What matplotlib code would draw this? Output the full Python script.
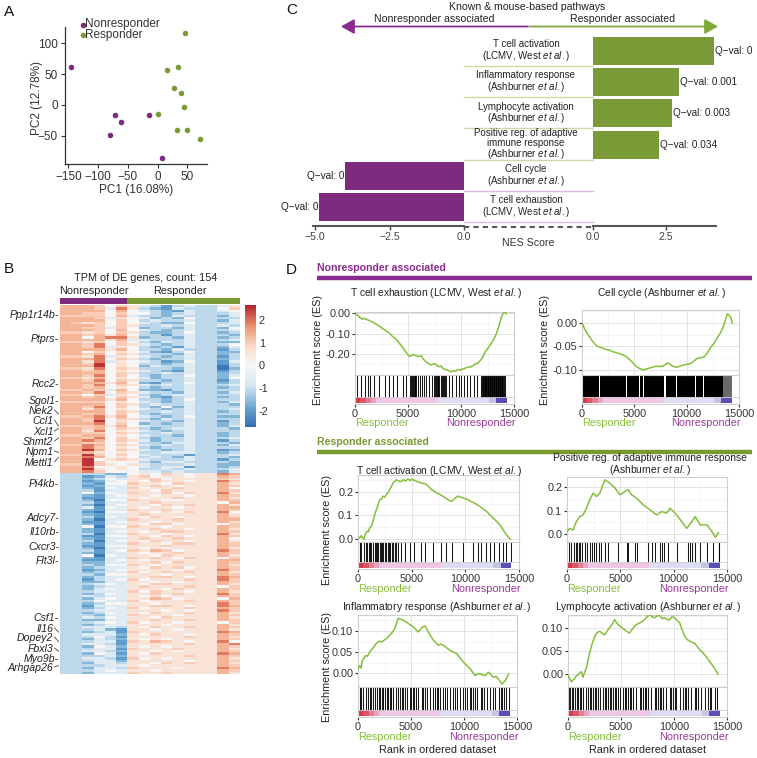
import numpy as np
import matplotlib
matplotlib.use('Agg')
import matplotlib.pyplot as plt
from matplotlib.colors import LinearSegmentedColormap, ListedColormap
from matplotlib.ticker import AutoMinorLocator

plt.rcParams['font.family'] = ['Liberation Sans', 'DejaVu Sans']
plt.rcParams['mathtext.fontset'] = 'custom'
plt.rcParams['mathtext.rm'] = 'Liberation Sans'
plt.rcParams['mathtext.it'] = 'Liberation Sans:italic'
plt.rcParams['mathtext.bf'] = 'Liberation Sans:bold'

# ---------------- DATA ----------------
# Panel A: PCA
nonresp_pc1 = [-145, -71, -62, -80, -14, 8]
nonresp_pc2 = [61, -16, -28, -49, -17, -86]
resp_pc1 = [46, 15, 34, 27, 40, 45, 1, 33, 50, 71]
resp_pc2 = [116, 57, 61, 28, 20, -3, -14, -40, -40, -55]

# Panel B: heatmap (z-scored TPM, 154 genes x 16 samples); letters a..k = levels below
level_chars = 'abcdefghijk'
level_values = [-2.5, -2.0, -1.6, -1.1, -0.6, 0.0, 0.55, 1.0, 1.3, 1.9, 2.5]
sample_groups = ['N'] * 6 + ['R'] * 10
heat_rows = [
"iiihfhgedbdeddeg", "iiihejgdcbedddfh", "iiiififedcbeddef", "iihhfhffdcdeddde",
"hhhhfieddcedddce", "iiihegfecdcfdddd", "iiiifhfdeddeddce", "ihghfhfedccfddde",
"iiihfhgddededded", "iihhehfcddceddcf", "iiihfifedcdeddde", "hhghfhgdccdfddcd",
"iihigifddbdedddc", "iifijjgcddceddcd", "iiiigieedddeddde", "hhghfhfdcededdcc",
"iihjfhgedcdedddf", "iihjegfdcdbeddce", "iiiigifddcedddbd", "iifhfgfecbdfddcc",
"iihifhgdddceddcd", "hhgjegfedcdeddbd", "iiijfhgdcddeddcd", "iigjegfedbcfddbe",
"iihkfgfddcdeddbd", "iiikfgfceddeddad", "hhgjfhgdddceddac", "iihifgfedcbeddbd",
"iiiifhgddededdcd", "iihjfhfdcddfddce", "hhgifgfecddeddcf", "iihjfhgddcdeddbd",
"iiiigifcbddfddcd", "iihjfhgedededdde", "iihifgfdcddeddcd", "hhiheifccbdedddd",
"iihjfhgeddceddce", "hhfhegfdcdeedddd", "iihifhgecbdeddcd", "iiiigifddcdfdddd",
"hhhhfgfedcdeddce", "iiiifhgdeddedddc", "iihjfhfdcfcedddd", "iigifgfedcdeddde",
"iiiifhgddededdcd", "iihifhfdcddedddd", "hhijgifedcdfddcc", "iihjfhgdcededddd",
"iihkfgfeddceddbd", "iiijfhfcdcdeddcd", "hhhigifedddeddce", "iihifhgdcdeedddc",
"iigjfgfedcdedddd", "iihhfhgddededdcd", "hhiifgfeddceddcd", "iihjfhfdcddeddde",
"iijifhgecddeddbd", "iihhfgfddceedddc", "hhjifhgedededdce", "iijhfgfdcddedddd",
"iikifhgedcdeddbc", "iiigfgfddeeeddcd", "hhkhfhfedddbddde", "iijifgfdedcedddc",
"iikfghgedddeddbd", "iikhfffdceeddddc", "hhkhgfgedddeddcc", "iijffgfedeebddcd",
"iikgfgfddededdde", "iijhfffeededddce",
"ddddccfgfhgfggji", "ddbcedghfggfggih", "ddcdfegghfgggghg", "ddbcefgfhggfggjh",
"ddcbffhggfhgggig", "ddbceegghgfgggih", "ddcbfehfgghgggif", "dddbeeggfhggggih",
"ddfcfehgghfhggjg", "ddcbefggfggfggih", "ddbbeegfgghgggig", "ddcaffhggffgggih",
"dddbeegghgggggfi", "ddcaefggfhghggig", "ddebfegfggfgggii", "ddcbeehgghggggih",
"ddbaffggfgfhggjf", "ddcbeeghggggggig", "dddbfegfhgfgggih", "ddcaeehggghgggii",
"ddbbefggfgggggig", "ddcbeegfhhfgggfh", "ddfaffhggfggggih", "ddcbeegghggfggig",
"ddcbefgfghhgggih", "dddaeehggfggggjg", "ddbbffggfhgfggih", "ddcbeeghgghgggif",
"dddaefgfhggfggig", "ddcbeehggfhhggih", "ddbbffggghggggih", "ddcaeegfgfggggig",
"dddbefhgihfgggjh", "ddcbeegfgghgggih", "ddfafeggfhggggig", "ddcbeehghgfhggfh",
"ddbbefgfggggggii", "ddcceegghfhgggih", "dddcffhgfgggggig", "ddcdeegfhghfggih",
"ddbcefggggfgggjh", "ddcdeehfghghggig", "dddcffgggfggggih", "ddcdeegghhgfggji",
"ddbdefhfggghggjh", "ddcceeggfgfgggih", "dddefegfhhggggig", "ddcdeeghggghggfh",
"ddcefegggfhgggih", "dddeeehfhggfggig", "ddcdfegghghgggjh", "ddedeegfgfggggih",
"ddcefeggihfgggfi", "dddfeehfggghggih", "ddcdffggfgggggjh", "ddbeeegghhgfggji",
"ddcdfehfggghggih", "dddeeegggfgfggjh", "ddcdfegfhgghggig", "dddceehgggfgggih",
"ddedfeggfhggggig", "ddcceegghgghggih", "dddefehfggfgggfh", "ddcdeegggfggggig",
"ddeeedgfhgghggih", "dddecbggfgfgggig", "ddcdebhgggggggji", "ddeeecgfhggfggih",
"dddfdbggggghggig", "ddcedcgfgfggggih", "dddeebhgihgfggjf", "ddeedbggggghggij",
"ddcfecgfgfggggih", "dddeebhggghgggig", "ddeedcggfgfgggih", "ddcfebgfhgggggji",
"ddddecggggghggih", "ddeedbhfgfggggig", "dddeecgggggfggih", "ddceedggfhghggig",
"ddddeegfggggggih", "ddceedhgggfgggji", "dddefeggfgggggih", "ddceeehgghggggig",
]
gene_labels = ['Ppp1r14b', 'Ptprs', 'Rcc2', 'Sgol1', 'Nek2', 'Ccl1', 'Xcl1', 'Shmt2', 'Npm1',
               'Mettl1', 'Pi4kb', 'Adcy7', 'Il10rb', 'Cxcr3', 'Flt3l', 'Csf1', 'Il16', 'Dopey2',
               'Fbxl3', 'Myo9b', 'Arhgap26']
gene_rows = [4, 14, 33, 40, 45, 50, 51, 55, 61, 63, 74, 88, 94, 100, 106, 130, 136, 140, 144, 147, 150]
cbar_ticks = [2, 1, 0, -1, -2]
cbar_ticklabels = ['2', '1', '0', '-1', '-2']

# Panel C: NES bars
pathway_names = [
    'T cell activation\n(LCMV, West $\\mathit{et\\ al.}$)',
    'Inflammatory response\n(Ashburner $\\mathit{et\\ al.}$)',
    'Lymphocyte activation\n(Ashburner $\\mathit{et\\ al.}$)',
    'Positive reg. of adaptive\nimmune response\n(Ashburner $\\mathit{et\\ al.}$)',
    'Cell cycle\n(Ashburner $\\mathit{et\\ al.}$)',
    'T cell exhaustion\n(LCMV, West $\\mathit{et\\ al.}$)',
]
nes_scores = [4.14, 2.95, 2.70, 2.26, -4.00, -4.87]
q_values = ['0', '0.001', '0.003', '0.034', '0', '0']

# Panel D: GSEA running enrichment scores
exh_rank = [0, 150, 300, 450, 680, 850, 1000, 1150, 1300, 1500,
            1700, 1900, 2070, 2300, 2500, 2750, 3000, 3250, 3500, 3700,
            3930, 4200, 4550, 4800, 5010, 5150, 5300, 5450, 5630, 5850,
            6090, 6250, 6400, 6550, 6710, 6850, 7000, 7150, 7330, 7500,
            7700, 7950, 8100, 8300, 8560, 8800, 9030, 9150, 9300, 9500,
            9650, 9800, 9950, 10110, 10250, 10400, 10550, 10730, 10900, 11050,
            11200, 11350, 11500, 11650, 11810, 12050, 12280, 12500, 12740, 13050,
            13360, 13600, 13830, 13950, 14070, 14180, 14290]
exh_es = [0.0, -0.008, -0.012, -0.022, -0.030, -0.026, -0.029, -0.033, -0.035, -0.040,
          -0.045, -0.052, -0.057, -0.063, -0.072, -0.080, -0.090, -0.098, -0.112, -0.120,
          -0.131, -0.148, -0.172, -0.190, -0.205, -0.212, -0.208, -0.203, -0.205, -0.210,
          -0.212, -0.208, -0.222, -0.230, -0.238, -0.242, -0.248, -0.253, -0.250, -0.246,
          -0.254, -0.262, -0.258, -0.270, -0.276, -0.280, -0.287, -0.283, -0.281, -0.284,
          -0.278, -0.275, -0.279, -0.272, -0.274, -0.268, -0.266, -0.262, -0.264, -0.258,
          -0.255, -0.246, -0.248, -0.240, -0.232, -0.215, -0.189, -0.175, -0.156, -0.132,
          -0.098, -0.060, -0.016, -0.004, 0.003, 0.001, -0.003]
exh_hits = [217, 526, 897, 1206, 1454, 1763, 2227, 2846, 3248, 3619, 3990, 4485, 4856, 5227, 5290, 5351,
            5475, 5550, 5629, 5700, 5784, 5939, 6155, 6341, 6465, 6712, 7022, 7269, 7486, 7560, 7640, 7720,
            7795, 7870, 7950, 8104, 8180, 8259, 8413, 8506, 8630, 8877, 9187, 9496, 9805, 9960, 10269, 10578,
            10888, 11197, 11506, 11908, 11970, 12032, 12095, 12156, 12220, 12280, 12340, 12403, 12465, 12527,
            12590, 12651, 12715, 12775, 12840, 12899, 12960, 13022, 13085, 13146, 13210, 13270, 13330, 13393,
            13455, 13517, 13580, 13641, 13700, 13765, 13825, 13888, 13981, 14060, 14136]

cc_rank = [0, 200, 410, 700, 950, 1200, 1420, 1750, 2050, 2400, 2680, 3000, 3320, 3650, 3950, 4300, 4580,
           4900, 5210, 5500, 5840, 6150, 6470, 6800, 7100, 7400, 7740, 8000, 8210, 8450, 8680, 8900, 9160,
           9450, 9790, 10100, 10420, 10750, 11050, 11350, 11680, 12000, 12320, 12650, 12950, 13200, 13420,
           13650, 13890, 14050, 14210, 14350]
cc_es = [0.0, -0.010, -0.019, -0.029, -0.037, -0.044, -0.049, -0.052, -0.054, -0.057, -0.058, -0.062,
         -0.063, -0.066, -0.068, -0.073, -0.079, -0.086, -0.093, -0.097, -0.100, -0.098, -0.096, -0.094,
         -0.092, -0.093, -0.092, -0.088, -0.085, -0.089, -0.092, -0.094, -0.094, -0.091, -0.089, -0.088,
         -0.086, -0.080, -0.075, -0.074, -0.072, -0.063, -0.051, -0.042, -0.030, -0.022, -0.012, 0.002,
         0.020, 0.017, 0.013, 0.000]
cc_hit_blocks = [(0, 1650), (1750, 4200), (4300, 5420), (5520, 5870), (5970, 7880), (7980, 9000),
                 (9100, 10760), (10860, 11560), (11660, 13500)]
cc_gray_blocks = [(13500, 14300)]

act_rank = [0, 150, 310, 420, 530, 700, 840, 960, 1090, 1250,
            1400, 1600, 1770, 1900, 2020, 2180, 2330, 2480, 2640, 2800,
            2950, 3100, 3260, 3420, 3570, 3700, 3800, 3920, 4040, 4170,
            4300, 4400, 4500, 4620, 4750, 4860, 4970, 5080, 5200, 5310,
            5430, 5660, 5900, 6130, 6370, 6600, 6830, 7060, 7300, 7600,
            7920, 8150, 8390, 8620, 8850, 9080, 9320, 9550, 9780, 10010,
            10250, 10480, 10710, 11020, 11330, 11640, 11960, 12270, 12580, 12890,
            13200, 13510, 13820, 14000, 14190]
act_es = [0.008, 0.004, 0.014, 0.006, 0.0, 0.022, 0.033, 0.030, 0.047, 0.055,
          0.075, 0.110, 0.132, 0.150, 0.167, 0.170, 0.182, 0.178, 0.189, 0.196,
          0.210, 0.222, 0.238, 0.245, 0.252, 0.248, 0.247, 0.243, 0.245, 0.251,
          0.250, 0.246, 0.249, 0.254, 0.253, 0.248, 0.252, 0.255, 0.248, 0.250,
          0.245, 0.242, 0.238, 0.236, 0.231, 0.222, 0.210, 0.204, 0.196, 0.190,
          0.182, 0.174, 0.167, 0.160, 0.164, 0.175, 0.182, 0.178, 0.175, 0.170,
          0.167, 0.160, 0.156, 0.148, 0.139, 0.128, 0.118, 0.103, 0.089, 0.076,
          0.061, 0.040, 0.018, 0.008, 0.0]
act_hits = [155, 311, 528, 714, 839, 1025, 1149, 1242, 1398, 1553, 1646, 1770, 1894, 2019, 2112, 2236,
            2360, 2484, 2640, 2764, 2888, 3012, 3137, 3261, 3416, 3571, 3758, 4037, 4348, 4814, 5186, 5901,
            6211, 6988, 7764, 8230, 8789, 9783, 10714, 11180, 11491, 11957, 12267, 12640, 13137, 13509,
            13758, 14286]

pos_rank = [0, 250, 565, 880, 1190, 1510, 1820, 2130, 2450, 2760, 3075, 3545, 4020, 4490, 4960, 5430,
            5740, 6060, 6530, 7150, 7780, 8410, 8880, 9350, 9660, 10140, 10760, 11230, 11700, 12020, 12490,
            13120, 13590, 13900, 14210]
pos_es = [0.010, 0.024, 0.017, 0.053, 0.074, 0.081, 0.110, 0.146, 0.174, 0.160, 0.174, 0.231, 0.217,
          0.196, 0.167, 0.181, 0.189, 0.167, 0.153, 0.124, 0.103, 0.081, 0.096, 0.089, 0.110, 0.089, 0.053,
          0.024, 0.053, 0.074, 0.039, 0.039, 0.010, -0.014, 0.006]
pos_hits = [188, 408, 628, 816, 941, 1130, 1255, 1443, 1663, 1914, 2134, 2322, 2510, 2761, 3012, 3232,
            3546, 3859, 4801, 5585, 5742, 6370, 6527, 7625, 7939, 8252, 8723, 8880, 9100, 9508, 10292,
            11390, 11547, 11704, 12018, 12489, 13116, 13681, 14214, 14280]

infl_rank = [0, 160, 280, 410, 570, 730, 900, 1100, 1300, 1480,
             1640, 1800, 2000, 2210, 2450, 2680, 2920, 3160, 3310, 3470,
             3630, 3790, 4020, 4260, 4500, 4740, 4970, 5210, 5450, 5680,
             5900, 6100, 6320, 6470, 6630, 6870, 7110, 7350, 7580, 7820,
             8050, 8370, 8680, 9000, 9320, 9630, 9950, 10260, 10580, 10820,
             11050, 11290, 11530, 11760, 12000, 12160, 12320, 12560, 12790, 13030,
             13260, 13420, 13580, 13740, 13890, 14050, 14210]
infl_es = [0.010, 0.018, 0.012, 0.030, 0.036, 0.042, 0.040, 0.050, 0.056, 0.062,
           0.068, 0.072, 0.076, 0.074, 0.078, 0.082, 0.088, 0.094, 0.100, 0.106,
           0.118, 0.130, 0.128, 0.126, 0.122, 0.118, 0.114, 0.110, 0.104, 0.098,
           0.104, 0.110, 0.112, 0.106, 0.098, 0.088, 0.078, 0.072, 0.066, 0.069,
           0.066, 0.060, 0.054, 0.050, 0.046, 0.036, 0.026, 0.018, 0.010, 0.002,
           -0.006, -0.001, -0.002, -0.004, -0.006, -0.001, 0.002, -0.004, -0.010, -0.008,
           -0.014, -0.020, -0.026, -0.022, -0.018, -0.010, -0.002]
infl_hits = [0, 158, 316, 474, 726, 947, 1105, 1263, 1421, 1579, 1800, 1989, 2116, 2242, 2368, 2526, 2747,
             2873, 3000, 3158, 3316, 3568, 3789, 3947, 4105, 4263, 4421, 4642, 4895, 5021, 5147, 5305, 5463,
             5684, 6000, 6158, 6316, 6473, 6789, 7105, 7263, 7421, 7579, 7736, 7989, 8210, 8368, 8684, 9000,
             9158, 9315, 9631, 9947, 10105, 10262, 10578, 10705, 10831, 11052, 11273, 11589, 11715, 11841,
             12157, 12410, 12726, 12946, 13262, 13483, 13610, 13736, 13988, 14209]

lym_rank = [0, 160, 315, 470, 630, 780, 940, 1100, 1260, 1410,
            1570, 1730, 1880, 2040, 2280, 2520, 2750, 2990, 3220, 3460,
            3700, 3930, 4160, 4400, 4630, 4870, 5110, 5350, 5580, 5820,
            6050, 6290, 6520, 6760, 7000, 7230, 7460, 7700, 7940, 8180,
            8410, 8650, 8880, 9120, 9350, 9590, 9820, 10060, 10300, 10540,
            10770, 11010, 11240, 11480, 11710, 11950, 12180, 12420, 12650, 12890,
            13120, 13360, 13600, 13840, 14000, 14150]
lym_es = [-0.002, -0.010, -0.017, -0.013, -0.010, -0.004, -0.002, 0.003, 0.005, -0.007,
          0.004, 0.013, 0.028, 0.046, 0.066, 0.082, 0.090, 0.093, 0.088, 0.085,
          0.094, 0.100, 0.108, 0.118, 0.110, 0.104, 0.100, 0.096, 0.092, 0.089,
          0.097, 0.104, 0.108, 0.111, 0.114, 0.118, 0.124, 0.129, 0.124, 0.122,
          0.126, 0.127, 0.120, 0.122, 0.118, 0.118, 0.124, 0.122, 0.116, 0.111,
          0.095, 0.082, 0.075, 0.071, 0.069, 0.067, 0.060, 0.053, 0.048, 0.042,
          0.035, 0.027, 0.020, 0.012, 0.006, 0.0]
lym_hits = [94, 220, 346, 472, 629, 849, 975, 1101, 1258, 1415, 1667, 1887, 2044, 2201, 2358, 2516, 2673,
            2830, 3050, 3302, 3459, 3616, 3774, 3931, 4088, 4245, 4403, 4560, 4717, 4937, 5189, 5346, 5503,
            5660, 5818, 5975, 6132, 6447, 6761, 6918, 7075, 7233, 7390, 7547, 7862, 8176, 8333, 8491, 8648,
            8805, 8962, 9277, 9591, 9748, 9906, 10063, 10220, 10535, 10849, 11006, 11164, 11321, 11635,
            11950, 12107, 12264, 12578, 12893, 13207, 13365, 13522, 13836, 14088]

# ranked-metric colour strip (rank boundaries and colours)
strip_edges = [0, 500, 1000, 1500, 2000, 7700, 12600, 13300, 14300]
strip_colors = ['#d63a48', '#dc5664', '#e27e94', '#e8a3c3', '#efc5e4', '#dcdcf2', '#c4c4e8', '#5b4fb5']

# ---------------- STYLE ----------------
PURPLE = '#7e2a7e'
GREEN = '#7a9a38'
CURVE = '#86be3c'
TXT_GREEN = '#86be3c'
TXT_PURPLE = '#9a3a9a'

W, H = 757, 758
fig = plt.figure(figsize=(W / 100, H / 100), dpi=100)


def R(x0, y0, x1, y1):
    return [x0 / W, 1 - y1 / H, (x1 - x0) / W, (y1 - y0) / H]


ov = fig.add_axes([0, 0, 1, 1], zorder=20)
ov.set_xlim(0, W)
ov.set_ylim(H, 0)
ov.axis('off')

# panel letters
for lab, x, y in [('A', 4, 12), ('B', 4, 269), ('C', 286, 10), ('D', 286, 270)]:
    ov.text(x, y, lab, fontsize=11, va='center', ha='left', color='#111')

# ---------------- Panel A ----------------
axA = fig.add_axes(R(65, 27, 207, 164))
axA.scatter(nonresp_pc1, nonresp_pc2, s=16, color=PURPLE, lw=0, zorder=3)
axA.scatter(resp_pc1, resp_pc2, s=16, color=GREEN, lw=0, zorder=3)
axA.set_xlim(-155.6, 83)
axA.set_ylim(-95.4, 126)
axA.set_xticks([-150, -100, -50, 0, 50])
axA.set_yticks([-50, 0, 50, 100])
for s in ['top', 'right']:
    axA.spines[s].set_visible(False)
for s in ['left', 'bottom']:
    axA.spines[s].set_color('#333')
    axA.spines[s].set_linewidth(0.9)
axA.tick_params(labelsize=8.5, colors='#333', length=3, width=0.8, pad=2)
ov.text(136, 190, 'PC1 (16.08%)', fontsize=8.5, ha='center', va='center', color='#333')
ov.text(37, 98, 'PC2 (12.78%)', fontsize=8.5, ha='center', va='center', rotation=90, color='#333')
ov.plot([82.5], [24.5], 'o', color=PURPLE, ms=4, mew=0)
ov.plot([82.5], [35], 'o', color=GREEN, ms=4, mew=0)
ov.text(85.5, 24.5, 'Nonresponder', fontsize=8.5, va='center', ha='left', color='#333')
ov.text(85.5, 35, 'Responder', fontsize=8.5, va='center', ha='left', color='#333')

# ---------------- Panel B ----------------
lv = dict(zip(level_chars, level_values))
heat = np.array([[lv[c] for c in row] for row in heat_rows])
cmap = LinearSegmentedColormap.from_list(
    'rb', ['#2f6db3', '#6ea9d2', '#d3e5f1', '#f7f7f7', '#fbd9c6', '#ec8f6a', '#b5202e'])
axB = fig.add_axes(R(60, 305, 240, 674))
im = axB.imshow(heat, cmap=cmap, vmin=-2.7, vmax=2.65, aspect='auto', interpolation='nearest')
axB.axis('off')
axG = fig.add_axes(R(60, 298, 240, 304))
gcodes = np.array([[0 if g == 'N' else 1 for g in sample_groups]])
axG.imshow(gcodes, cmap=ListedColormap([PURPLE, GREEN]), aspect='auto', vmin=0, vmax=1,
           interpolation='nearest')
axG.axis('off')
cax = fig.add_axes(R(245, 305, 256, 427))
cb = fig.colorbar(im, cax=cax)
cb.outline.set_visible(False)
cb.set_ticks(cbar_ticks)
cb.set_ticklabels(cbar_ticklabels)
cax.tick_params(length=0, labelsize=7.8, pad=2, colors='#333')
ov.text(146, 278, 'TPM of DE genes, count: 154', fontsize=7.8, ha='center', va='center', color='#222')
ov.text(94, 291, 'Nonresponder', fontsize=7.8, ha='center', va='center', color='#222')
ov.text(180, 291, 'Responder', fontsize=7.8, ha='center', va='center', color='#222')

label_y = [315, 339, 384, 401, 411, 421, 432, 442, 452, 463, 484, 518, 532, 547, 561, 618, 629, 638,
           649, 659, 668]
dash_style = [True, True, True, True, False, False, False, False, False, False, True, True, True, True,
              True, True, False, False, False, True, False]
row_h = (674 - 305) / len(heat_rows)
for name, r, ly, dash in zip(gene_labels, gene_rows, label_y, dash_style):
    ry = 305 + (r + 0.5) * row_h
    if dash:
        ov.text(59, ly, name + '-', fontsize=7.6, style='italic', ha='right', va='center', color='#222')
    else:
        ov.text(53.5, ly, name, fontsize=7.6, style='italic', ha='right', va='center', color='#222')
        ov.plot([54.5, 58.5], [ly - 1, ry], color='#444', lw=0.6)

# ---------------- Panel C ----------------
row_c0, pitch = 51, 31.2
yl_top = (35 - row_c0) / pitch
yl_bot = (226 - row_c0) / pitch
axL = fig.add_axes(R(313, 35, 464, 226))
axR = fig.add_axes(R(593, 35, 716, 226))
for i, (v, q) in enumerate(zip(nes_scores, q_values)):
    if v > 0:
        axR.barh(i, v, height=0.9, color=GREEN, lw=0)
        axR.text(v + 0.02, i, 'Q\u2212val: ' + q, fontsize=7.2, ha='left', va='center', color='#222',
                 clip_on=False)
    else:
        axL.barh(i, v, height=0.9, color=PURPLE, lw=0)
        axL.text(v - 0.02, i, 'Q\u2212val: ' + q, fontsize=7.2, ha='right', va='center', color='#222',
                 clip_on=False)
axL.set_xlim(-5.07, 0)
axR.set_xlim(0, 4.2)
for a in (axL, axR):
    a.set_ylim(yl_bot, yl_top)
    a.set_yticks([])
    for s in ['top', 'right', 'left']:
        a.spines[s].set_visible(False)
    a.spines['bottom'].set_color('#555')
    a.spines['bottom'].set_linewidth(1.5)
    a.tick_params(axis='x', labelsize=7.6, colors='#444', length=3, width=1, pad=1.5)
    a.patch.set_alpha(0)
axL.set_xticks([-5, -2.5, 0])
axL.set_xticklabels(['\u22125.0', '\u22122.5', '0.0'])
axR.set_xticks([0, 2.5])
axR.set_xticklabels(['0.0', '2.5'])
ov.plot([464, 593], [226.5, 226.5], color='#555', lw=1.5, ls=(0, (2.5, 2)))
ov.text(528, 243, 'NES Score', fontsize=7.6, ha='center', va='center', color='#333')
for i, (name, v) in enumerate(zip(pathway_names, nes_scores)):
    cy = row_c0 + i * pitch
    ov.text(526, cy, name, fontsize=7.0, ha='center', va='center', linespacing=0.95, color='#222')
    ov.plot([464, 593], [cy + 15, cy + 15], color='#c9dca5' if v > 0 else '#dcbcdc', lw=1.0)
ov.text(527, 7, 'Known & mouse-based pathways', fontsize=7.6, ha='center', va='center', color='#222')
ov.text(434, 19.5, 'Nonresponder associated', fontsize=7.6, ha='center', va='center', color='#222')
ov.text(623, 19.5, 'Responder associated', fontsize=7.6, ha='center', va='center', color='#222')
ov.annotate('', xy=(341, 26.5), xytext=(528, 26.5),
            arrowprops=dict(arrowstyle='-|>,head_length=0.8,head_width=0.45', color='#8a2a8f', lw=1.3,
                            shrinkA=0, shrinkB=0))
ov.annotate('', xy=(718, 26.5), xytext=(530, 26.5),
            arrowprops=dict(arrowstyle='-|>,head_length=0.8,head_width=0.45', color='#7fa83a', lw=1.3,
                            shrinkA=0, shrinkB=0))

# ---------------- Panel D ----------------
ov.text(317, 268, 'Nonresponder associated', fontsize=7.6, fontweight='bold', color='#8a2a8f',
        ha='left', va='center')
ov.plot([317, 752], [277.5, 277.5], color='#8a2a8f', lw=3.2, solid_capstyle='butt')
ov.text(317, 442, 'Responder associated', fontsize=7.6, fontweight='bold', color='#7a9a2e',
        ha='left', va='center')
ov.plot([317, 752], [452, 452], color='#7a9a2e', lw=3.2, solid_capstyle='butt')


def gsea_panel(x0, x1, yt, ym, yb, ex, ey, ylim, ytv, ytl, hits=None, blocks=None, gblocks=None,
               xlabel=False):
    ax = fig.add_axes(R(x0, yt, x1, ym))
    ax.plot(ex, ey, color=CURVE, lw=1.1, zorder=3)
    ax.set_xlim(0, 15000)
    ax.set_ylim(*ylim)
    ax.set_yticks(ytv)
    ax.set_yticklabels(ytl)
    ax.set_xticks([0, 5000, 10000, 15000])
    ax.set_xticklabels([])
    ax.set_xticks([2500, 7500, 12500], minor=True)
    ax.yaxis.set_minor_locator(AutoMinorLocator(2))
    ax.grid(True, which='major', color='#e3e3e3', lw=0.7)
    ax.grid(True, which='minor', color='#f1f1f1', lw=0.5)
    ax.set_axisbelow(True)
    ax.tick_params(axis='x', which='both', length=0)
    ax.tick_params(axis='y', which='major', length=2, labelsize=7.8, colors='#333', pad=1.5)
    ax.tick_params(axis='y', which='minor', length=0)
    for s in ax.spines.values():
        s.set_color('#cfcfcf')
        s.set_linewidth(0.8)
    bx = fig.add_axes(R(x0, ym, x1, yb))
    bx.set_xlim(0, 15000)
    bx.set_ylim(0, 1)
    tot = yb - ym
    lo, hi = 1.0 / tot, 7.0 / tot
    if hits is not None:
        bx.vlines(hits, hi, 1, color='black', lw=0.75, alpha=0.9)
    if blocks is not None:
        bx.broken_barh([(s, e - s) for s, e in blocks], (hi, 1 - hi), color='black', lw=0)
    if gblocks is not None:
        bx.broken_barh([(s, e - s) for s, e in gblocks], (hi, 1 - hi), color='#6a6a6a', lw=0)
    for e0, e1, c in zip(strip_edges[:-1], strip_edges[1:], strip_colors):
        bx.axvspan(e0, e1, ymin=lo, ymax=hi, color=c, lw=0)
    bx.axhline(hi, color='#cfcfcf', lw=0.6)
    bx.set_yticks([])
    bx.set_xticks([0, 5000, 10000, 15000])
    bx.tick_params(axis='x', labelsize=7.8, colors='#333', length=2, pad=1.5)
    for s in bx.spines.values():
        s.set_color('#cfcfcf')
        s.set_linewidth(0.8)
    ov.text(x0, yb + 19.5, 'Responder', fontsize=7.8, color=TXT_GREEN, ha='left', va='center')
    ov.text(x1 + 2, yb + 19.5, 'Nonresponder', fontsize=7.8, color=TXT_PURPLE, ha='right', va='center')
    if xlabel:
        ov.text((x0 + x1) / 2, yb + 33, 'Rank in ordered dataset', fontsize=7.8, color='#222',
                ha='center', va='center')
    return ax, bx


gsea_panel(355, 514, 312, 375, 404, exh_rank, exh_es, (-0.302, 0.005), [0, -0.1, -0.2],
           ['0.00', '-0.10', '-0.20'], hits=exh_hits)
ov.text(436, 293, 'T cell exhaustion (LCMV, West $\\mathit{et\\ al.}$)', fontsize=7.4, ha='center',
        va='center', color='#222')
ov.text(318, 350, 'Enrichment score (ES)', fontsize=7.8, rotation=90, ha='center', va='center', color='#222')

gsea_panel(582, 739, 310, 375, 404, cc_rank, cc_es, (-0.111, 0.028), [0, -0.05, -0.10],
           ['0.00', '-0.05', '-0.10'], blocks=cc_hit_blocks, gblocks=cc_gray_blocks)
ov.text(662, 293, 'Cell cycle (Ashburner $\\mathit{et\\ al.}$)', fontsize=7.4, ha='center', va='center',
        color='#222')
ov.text(545, 350, 'Enrichment score (ES)', fontsize=7.8, rotation=90, ha='center', va='center', color='#222')

gsea_panel(358, 519, 475, 542, 569, act_rank, act_es, (-0.013, 0.272), [0, 0.1, 0.2],
           ['0.0', '0.1', '0.2'], hits=act_hits)
ov.text(439, 471, 'T cell activation (LCMV, West $\\mathit{et\\ al.}$)', fontsize=7.4, ha='center',
        va='center', color='#222')
ov.text(327, 530, 'Enrichment score (ES)', fontsize=7.8, rotation=90, ha='center', va='center', color='#222')

gsea_panel(567, 727, 477, 542, 569, pos_rank, pos_es, (-0.034, 0.243), [0, 0.1, 0.2],
           ['0.0', '0.1', '0.2'], hits=pos_hits)
ov.text(650, 465, 'Positive reg. of adaptive immune response\n(Ashburner $\\mathit{et\\ al.}$)',
        fontsize=7.4, ha='center', va='center', linespacing=0.95, color='#222')

gsea_panel(358, 517, 615, 687, 717, infl_rank, infl_es, (-0.033, 0.138), [0, 0.05, 0.10],
           ['0.00', '0.05', '0.10'], hits=infl_hits, xlabel=True)
ov.text(437, 607, 'Inflammatory response (Ashburner $\\mathit{et\\ al.}$)', fontsize=7.4, ha='center',
        va='center', color='#222')
ov.text(327, 667, 'Enrichment score (ES)', fontsize=7.8, rotation=90, ha='center', va='center', color='#222')

gsea_panel(568, 727, 615, 687, 717, lym_rank, lym_es, (-0.028, 0.128), [0, 0.05, 0.10],
           ['0.00', '0.05', '0.10'], hits=lym_hits, xlabel=True)
ov.text(648, 607, 'Lymphocyte activation (Ashburner $\\mathit{et\\ al.}$)', fontsize=7.4, ha='center',
        va='center', color='#222')

fig.savefig('out.png', dpi=100)
